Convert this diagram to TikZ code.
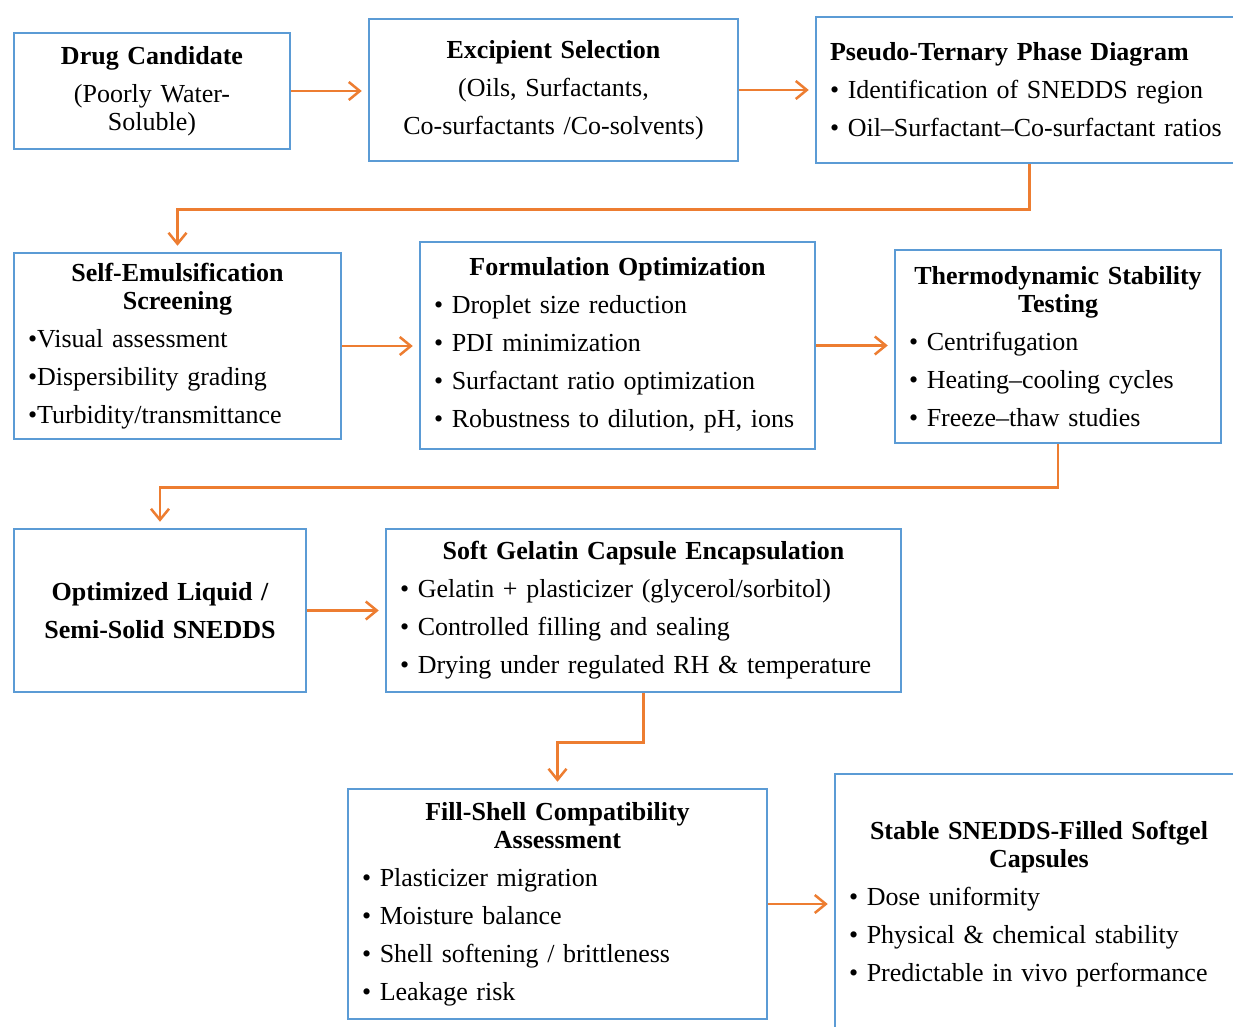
\documentclass[tikz,border=0pt]{standalone}
\usepackage{fontspec}
\setmainfont{Liberation Serif}
\definecolor{boxblue}{RGB}{91, 155, 213}
\definecolor{floworange}{RGB}{237, 125, 49}
\usetikzlibrary{arrows.meta, positioning}
\newcommand{\bt}[1]{\hfill\textbf{#1}\hfill\null}

\begin{document}
\begin{tikzpicture}[x=1pt, y=-1pt,
    stage/.style={draw=boxblue, line width=2.5pt, rectangle, inner xsep=14pt, inner ysep=0pt,
        font=\fontsize{26}{28}\selectfont},
    flow/.style={draw=floworange, line width=2.5pt,
        -{Straight Barb[length=11pt, width=18pt, line width=2.5pt]}, shorten >=6pt}]
        \clip (0,0) rectangle (1233,1027);
        \fill[white] (0,0) rectangle (1233,1027);

        % Nodes
        \node[stage, text width=248pt, minimum height=116pt, align=center] (n1) at (152,91) {
            \textbf{Drug Candidate}\\[10pt]
            (Poorly Water-\\Soluble)
        };

        \node[stage, text width=341pt, minimum height=142pt, align=center] (n2) at (553.5,90) {
            \textbf{Excipient Selection}\\[10pt]
            (Oils, Surfactants,\\[10pt]
            Co-surfactants /Co-solvents)
        };

        \node[stage, text width=399pt, minimum height=146pt, align=left] (n3) at (1029.5,90) {
            \textbf{Pseudo-Ternary Phase Diagram}\\[10pt]
            • Identification of SNEDDS region\\[10pt]
            • Oil–Surfactant–Co-surfactant ratios
        };

        \node[stage, text width=299pt, minimum height=186pt, align=left] (n4) at (177.5,346) {
            \bt{Self-Emulsification}\\\bt{Screening}\\[10pt]
            •Visual assessment\\[10pt]
            •Dispersibility grading\\[10pt]
            •Turbidity/transmittance
        };

        \node[stage, text width=367pt, minimum height=207pt, align=left] (n5) at (617.5,345.5) {
            \bt{Formulation Optimization}\\[10pt]
            • Droplet size reduction\\[10pt]
            • PDI minimization\\[10pt]
            • Surfactant ratio optimization\\[10pt]
            • Robustness to dilution, pH, ions
        };

        \node[stage, text width=298pt, minimum height=193pt, align=left] (n6) at (1058,346.5) {
            \bt{Thermodynamic Stability}\\\bt{Testing}\\[10pt]
            • Centrifugation\\[10pt]
            • Heating–cooling cycles\\[10pt]
            • Freeze–thaw studies
        };

        \node[stage, text width=264pt, minimum height=163pt, align=center, font=\fontsize{26}{28}\selectfont\bfseries] (n7) at (160,610.5) {
            Optimized Liquid /\\[10pt]
            Semi-Solid SNEDDS
        };

        \node[stage, text width=487pt, minimum height=163pt, align=left] (n8) at (643.5,610.5) {
            \bt{Soft Gelatin Capsule Encapsulation}\\[10pt]
            • Gelatin + plasticizer (glycerol/sorbitol)\\[10pt]
            • Controlled filling and sealing\\[10pt]
            • Drying under regulated RH \& temperature
        };

        \node[stage, text width=391pt, minimum height=230pt, align=left] (n9) at (557.5,904) {
            \bt{Fill-Shell Compatibility}\\\bt{Assessment}\\[10pt]
            • Plasticizer migration\\[10pt]
            • Moisture balance\\[10pt]
            • Shell softening / brittleness\\[10pt]
            • Leakage risk
        };

        \node[stage, text width=380pt, minimum height=261pt, align=left] (n10) at (1039,904.5) {
            \bt{Stable SNEDDS-Filled Softgel}\\\bt{Capsules}\\[10pt]
            • Dose uniformity\\[10pt]
            • Physical \& chemical stability\\[10pt]
            • Predictable in vivo performance
        };

        % Arrows
        \draw[flow] (n1.east) -- (n1.east -| n2.west);
        \draw[flow] (n2.east) -- (n2.east -| n3.west);
        \draw[flow] (n3.south) -- ++(0,45) -| (n4.north);
        \draw[flow] (n4.east) -- (n4.east -| n5.west);
        \draw[flow] (n5.east) -- (n5.east -| n6.west);
        \draw[flow] (n6.south) -- ++(0,43) -| (n7.north);
        \draw[flow] (n7.east) -- (n7.east -| n8.west);
        \draw[flow] (n8.south) -- ++(0,49) -| (n9.north);
        \draw[flow] (n9.east) -- (n9.east -| n10.west);
    \end{tikzpicture}
\end{document}
